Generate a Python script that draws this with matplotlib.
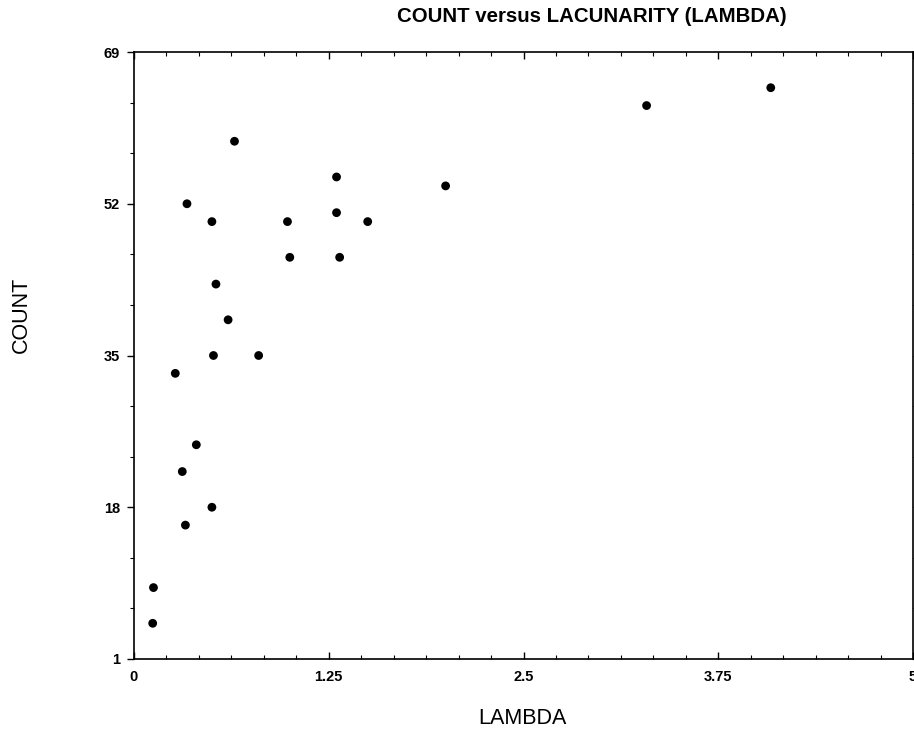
import matplotlib
matplotlib.use("Agg")
import matplotlib.pyplot as plt
from matplotlib.ticker import AutoMinorLocator

plt.rcParams['font.family'] = ['Liberation Sans', 'DejaVu Sans']

lam = [0.12, 0.125, 0.33, 0.50, 0.31, 0.40, 0.265, 0.51, 0.80, 0.604, 0.526,
       0.34, 0.50, 0.645, 0.985, 1.00, 1.30, 1.30, 1.32, 1.50, 2.00, 3.29, 4.087]
count = [5, 9, 16, 18, 22, 25, 33, 35, 35, 39, 43,
         52, 50, 59, 50, 46, 51, 55, 46, 50, 54, 63, 65]

xticks = [0, 1.25, 2.5, 3.75, 5]
xticklabels = ['0', '1.25', '2.5', '3.75', '5']
yticks = [1, 18, 35, 52, 69]
yticklabels = ['1', '18', '35', '52', '69']

fig = plt.figure(figsize=(9.14, 7.29), dpi=100)
ax = fig.add_axes([134/914, 1-659/729, (913-134)/914, (659-52)/729])

ax.scatter(lam, count, s=40, color='black', edgecolors='none', zorder=3)

ax.set_xlim(0, 5)
ax.set_ylim(1, 69)
ax.set_xticks(xticks)
ax.set_xticklabels(xticklabels, fontweight='bold', fontsize=10.5)
ax.set_yticks(yticks)
ax.set_yticklabels(yticklabels, fontweight='bold', fontsize=10.5)
ax.xaxis.set_minor_locator(AutoMinorLocator(6))
ax.yaxis.set_minor_locator(AutoMinorLocator(3))

ax.tick_params(axis='x', which='both', direction='in', top=True, bottom=True, pad=8)
ax.tick_params(axis='y', which='both', direction='out', left=True, right=True, pad=5)
ax.tick_params(which='major', length=5, width=1)
ax.tick_params(which='minor', length=3, width=0.8)
for s in ax.spines.values():
    s.set_linewidth(1.2)

fig.text(592/914, 1-17/729, 'COUNT versus LACUNARITY (LAMBDA)', ha='center', va='center',
         fontsize=14.7, fontweight='bold')
fig.text(21/914, 1-315/729, 'COUNT', rotation=90, ha='center', va='center', fontsize=15.5)
fig.text(522/914, 1-718/729, 'LAMBDA', ha='center', va='center', fontsize=15.5)

fig.savefig('out.png', dpi=100)
